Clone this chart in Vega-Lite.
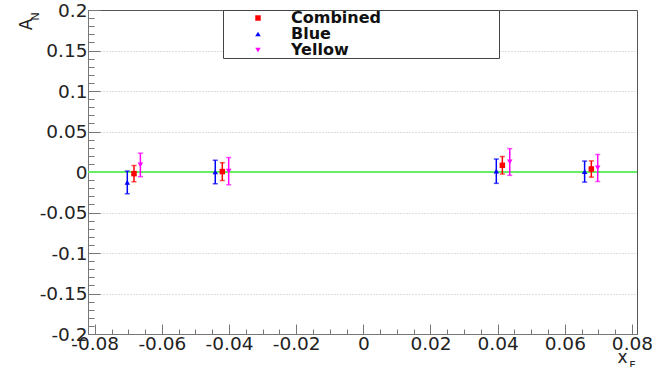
{
  "$schema": "https://vega.github.io/schema/vega-lite/v6.json",
  "width": 549,
  "height": 324,
  "autosize": {"type": "none"},
  "padding": {"left": 88, "top": 10, "right": 15, "bottom": 33},
  "background": "white",
  "config": {
    "locale": {"number": {"decimal": ".", "thousands": ",", "grouping": [3], "currency": ["$", ""], "minus": "-"}},
    "view": {"stroke": "#555", "strokeWidth": 1},
    "axis": {
      "domainColor": "#777",
      "tickColor": "#777",
      "labelFont": "DejaVu Sans",
      "labelFontSize": 18.5,
      "labelColor": "#222",
      "titleFont": "DejaVu Sans",
      "titleFontWeight": "normal",
      "titleColor": "#222",
      "gridColor": "#bbb",
      "gridDash": [1, 2],
      "labelOverlap": false,
      "labelFlush": false
    },
    "legend": {
      "orient": "none",
      "legendX": 135,
      "legendY": 0,
      "strokeColor": "#444",
      "fillColor": "white",
      "padding": 0,
      "labelFont": "DejaVu Sans",
      "labelFontWeight": "bold",
      "labelFontSize": 16,
      "labelColor": "#111",
      "labelLimit": 400,
      "symbolSize": 30,
      "rowPadding": 0,
      "symbolOffset": 27,
      "labelOffset": 25
    }
  },
  "data": {
    "values": [
      {"series": "Combined", "xf": -0.0683, "an": -0.002, "lo": -0.012, "hi": 0.008},
      {"series": "Combined", "xf": -0.0420, "an": 0.0005, "lo": -0.0105, "hi": 0.0115},
      {"series": "Combined", "xf": 0.0414, "an": 0.0083, "lo": -0.0025, "hi": 0.0191},
      {"series": "Combined", "xf": 0.0679, "an": 0.0037, "lo": -0.0063, "hi": 0.0137},
      {"series": "Blue", "xf": -0.0703, "an": -0.0128, "lo": -0.0268, "hi": 0.0012},
      {"series": "Blue", "xf": -0.0441, "an": 0.0, "lo": -0.0145, "hi": 0.0145},
      {"series": "Blue", "xf": 0.0396, "an": 0.001, "lo": -0.014, "hi": 0.016},
      {"series": "Blue", "xf": 0.0659, "an": 0.0005, "lo": -0.0125, "hi": 0.0135},
      {"series": "Yellow", "xf": -0.0664, "an": 0.0087, "lo": -0.0058, "hi": 0.0232},
      {"series": "Yellow", "xf": -0.0401, "an": 0.001, "lo": -0.0158, "hi": 0.0178},
      {"series": "Yellow", "xf": 0.0436, "an": 0.0124, "lo": -0.0041, "hi": 0.0289},
      {"series": "Yellow", "xf": 0.0698, "an": 0.005, "lo": -0.0117, "hi": 0.0217}
    ]
  },
  "layer": [
    {
      "mark": {"type": "rule", "color": "#66ee66", "strokeWidth": 1.2},
      "encoding": {
        "y": {"datum": 0, "type": "quantitative", "axis": null}
      }
    },
    {
      "mark": {"type": "rule", "strokeWidth": 1.5},
      "encoding": {
        "x": {
          "field": "xf", "type": "quantitative",
          "scale": {"domain": [-0.082, 0.0815], "nice": false, "zero": false},
          "axis": {
            "title": "x",
            "titleFontSize": 17,
            "titleX": 534, "titleY": 23,
            "titleAlign": "center", "titleBaseline": "middle", "titleAngle": 0,
            "values": [-0.08,-0.075,-0.07,-0.065,-0.06,-0.055,-0.05,-0.045,-0.04,-0.035,-0.03,-0.025,-0.02,-0.015,-0.01,-0.005,0,0.005,0.01,0.015,0.02,0.025,0.03,0.035,0.04,0.045,0.05,0.055,0.06,0.065,0.07,0.075,0.08],
            "format": ".2~f",
            "labelExpr": "abs(datum.value/0.02 - round(datum.value/0.02)) < 0.001 ? datum.label : ''",
            "tickSize": {"condition": {"test": "abs(datum.value/0.02 - round(datum.value/0.02)) < 0.001", "value": -10}, "value": -5},
            "labelPadding": 10,
            "grid": false
          }
        },
        "y": {
          "field": "lo", "type": "quantitative",
          "scale": {"domain": [-0.2, 0.2], "nice": false, "zero": false},
          "axis": {
            "title": "A",
            "titleFontSize": 17,
            "titleX": -62, "titleY": 14,
            "titleAlign": "center", "titleBaseline": "middle", "titleAngle": 270,
            "values": [-0.2,-0.19,-0.18,-0.17,-0.16,-0.15,-0.14,-0.13,-0.12,-0.11,-0.1,-0.09,-0.08,-0.07,-0.06,-0.05,-0.04,-0.03,-0.02,-0.01,0,0.01,0.02,0.03,0.04,0.05,0.06,0.07,0.08,0.09,0.1,0.11,0.12,0.13,0.14,0.15,0.16,0.17,0.18,0.19,0.2],
            "format": ".2~f",
            "labelExpr": "abs(datum.value/0.05 - round(datum.value/0.05)) < 0.001 ? datum.label : ''",
            "tickSize": {"condition": {"test": "abs(datum.value/0.05 - round(datum.value/0.05)) < 0.001", "value": -12}, "value": -6},
            "labelPadding": 13,
            "grid": true,
            "gridOpacity": {"condition": {"test": "abs(datum.value/0.05 - round(datum.value/0.05)) < 0.001 && abs(datum.value) < 0.19", "value": 1}, "value": 0}
          }
        },
        "y2": {"field": "hi"},
        "color": {
          "field": "series", "type": "nominal",
          "scale": {"domain": ["Combined", "Blue", "Yellow"], "range": ["#ff0000", "#0000ff", "#ff00ff"]},
          "legend": null
        }
      }
    },
    {
      "mark": {"type": "tick", "orient": "horizontal", "size": 5, "thickness": 1.5},
      "encoding": {
        "x": {"field": "xf", "type": "quantitative", "axis": null},
        "y": {"field": "lo", "type": "quantitative", "axis": null},
        "color": {"field": "series", "type": "nominal", "legend": null}
      }
    },
    {
      "mark": {"type": "tick", "orient": "horizontal", "size": 5, "thickness": 1.5},
      "encoding": {
        "x": {"field": "xf", "type": "quantitative", "axis": null},
        "y": {"field": "hi", "type": "quantitative", "axis": null},
        "color": {"field": "series", "type": "nominal", "legend": null}
      }
    },
    {
      "mark": {"type": "point", "filled": true, "size": 30, "opacity": 1},
      "encoding": {
        "x": {"field": "xf", "type": "quantitative", "axis": null},
        "y": {"field": "an", "type": "quantitative", "axis": null},
        "color": {"field": "series", "type": "nominal", "legend": {"title": null, "labelExpr": "datum.label + '\u00a0\u00a0\u00a0\u00a0\u00a0\u00a0\u00a0\u00a0\u00a0\u00a0\u00a0\u00a0\u00a0\u00a0\u00a0\u00a0\u00a0\u00a0\u00a0\u00a0\u00a0\u200b'"}},
        "shape": {
          "field": "series", "type": "nominal",
          "scale": {"domain": ["Combined", "Blue", "Yellow"], "range": ["square", "triangle-up", "triangle-down"]},
          "legend": {"title": null, "labelExpr": "datum.label + '\u00a0\u00a0\u00a0\u00a0\u00a0\u00a0\u00a0\u00a0\u00a0\u00a0\u00a0\u00a0\u00a0\u00a0\u00a0\u00a0\u00a0\u00a0\u00a0\u00a0\u00a0\u200b'"}
        }
      }
    },
    {
      "mark": {"type": "point", "opacity": 0},
      "encoding": {
        "x": {
          "field": "xf", "type": "quantitative",
          "axis": {"orient": "top", "labels": false, "ticks": false, "domain": false, "grid": false,
                   "title": "F", "titleFontSize": 11, "titleX": 544, "titleY": 355,
                   "titleAlign": "center", "titleBaseline": "middle", "titleAngle": 0}
        },
        "y": {
          "field": "an", "type": "quantitative",
          "axis": {"orient": "right", "labels": false, "ticks": false, "domain": false, "grid": false,
                   "title": "N", "titleFontSize": 11, "titleX": -602, "titleY": 6,
                   "titleAlign": "center", "titleBaseline": "middle", "titleAngle": 270}
        }
      }
    }
  ],
  "resolve": {
    "axis": {"x": "independent", "y": "independent"},
    "legend": {"color": "independent", "shape": "independent"}
  }
}
